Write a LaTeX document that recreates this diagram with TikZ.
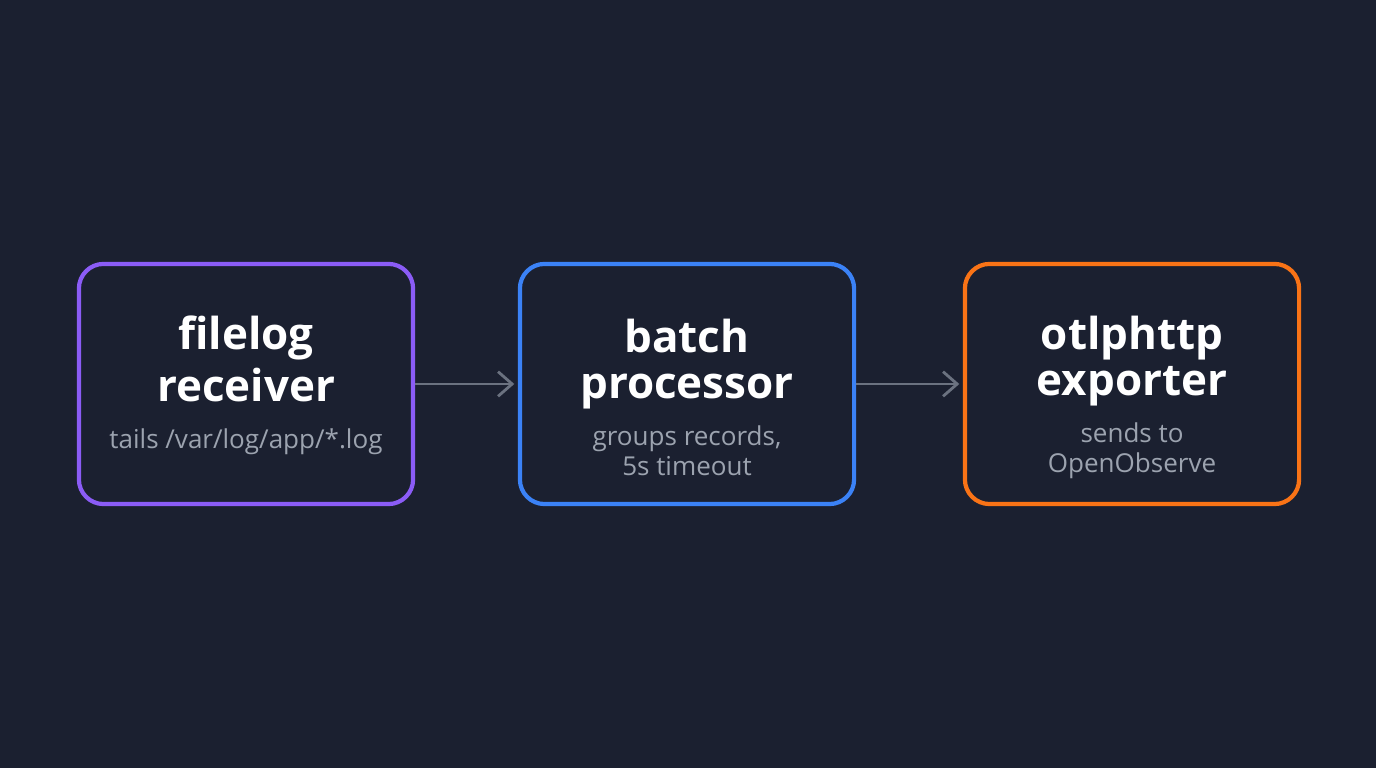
\documentclass[tikz,border=0pt]{standalone}
\usepackage{fontspec}
\setmainfont{Open Sans}
\usetikzlibrary{positioning,arrows.meta}
\definecolor{bg}{HTML}{1B2030}
\definecolor{purp}{HTML}{8B5CF6}
\definecolor{blu}{HTML}{3B82F6}
\definecolor{orng}{HTML}{F97316}
\definecolor{gry}{HTML}{9CA3AF}
\definecolor{arr}{HTML}{6B7280}
\tikzset{
  stage/.style={draw=#1, line width=1.2pt, rounded corners=7pt, fill=bg,
    minimum width=3.34cm, minimum height=2.4cm, align=center, text=white},
  link/.style={draw=arr, line width=0.8pt, -{Straight Barb[length=4pt,width=7pt]}}
}
\newcommand{\stagetitle}{\fontsize{12.5pt}{14.2pt}\selectfont\bfseries}
\newcommand{\stagenote}{\fontsize{7.4pt}{8.6pt}\selectfont\color{gry}}
\newcommand{\titletop}{\rule{0pt}{17pt}}
\begin{document}
\begin{tikzpicture}[x=0.01cm,y=-0.01cm]
  \fill[bg] (0,0) rectangle (1376,768);
  \useasboundingbox (0,0) rectangle (1376,768);
  \node[stage=purp] (recv) at (246,384) {\stagetitle\titletop filelog\\[1.1pt]\stagetitle receiver\\[1.5pt]\stagenote tails /var/log/app/*.log\\[-3.6pt]\stagenote\phantom{x}};
  \node[stage=blu] (proc) at (687,384) {\stagetitle\titletop batch\\[1.1pt]\stagetitle processor\\[1.5pt]\stagenote groups records,\\[-3.6pt]\stagenote 5s timeout};
  \node[stage=orng] (expo) at (1132,384) {\stagetitle\titletop otlphttp\\[1.1pt]\stagetitle exporter\\[1.5pt]\stagenote sends to\\[-3.6pt]\stagenote OpenObserve};
  \draw[link] (recv.east) -- ([xshift=-1pt]proc.west);
  \draw[link] (proc.east) -- ([xshift=-1pt]expo.west);
\end{tikzpicture}
\end{document}
